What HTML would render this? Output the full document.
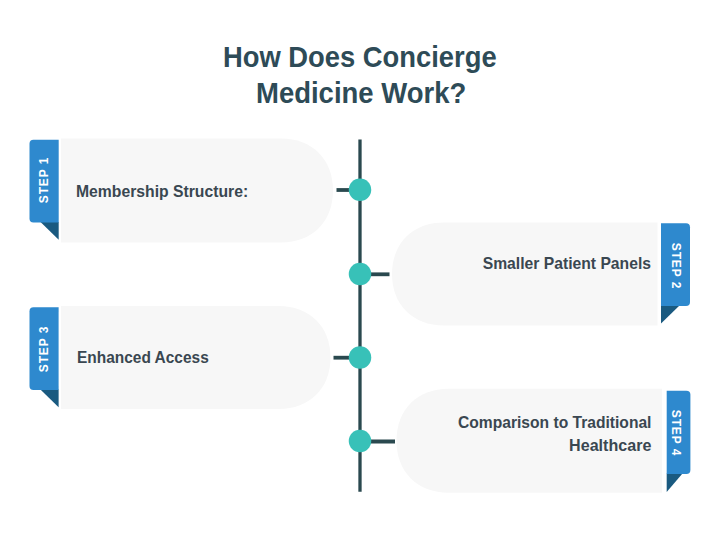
<!DOCTYPE html>
<html><head><meta charset="utf-8">
<style>
html,body{margin:0;padding:0;background:#fff;}
body{width:720px;height:539px;position:relative;overflow:hidden;font-family:"Liberation Sans",sans-serif;}
.t{position:absolute;white-space:nowrap;font-weight:bold;line-height:1;}
.title{font-size:30px;color:#2e4b57;}
.lbl{font-size:16.5px;color:#3a4751;}
.step{position:absolute;font-size:12px;color:#fff;font-weight:bold;letter-spacing:0.9px;white-space:nowrap;line-height:1;}
svg{position:absolute;left:0;top:0;}
</style></head><body>
<svg width="720" height="539" viewBox="0 0 720 539">
  <!-- cards -->
  <path d="M61 138.5 H281 C312.2 138.5 333 159.3 333 190.5 C333 221.7 312.2 242.5 281 242.5 H61 Z" fill="#f7f7f7"/>
  <path d="M657.5 222.5 H444 C412.8 222.5 392 243.1 392 274 C392 304.9 412.8 325.5 444 325.5 H657.5 Z" fill="#f7f7f7"/>
  <path d="M61 306 H278.5 C309.7 306 330.5 326.6 330.5 357.5 C330.5 388.4 309.7 409 278.5 409 H61 Z" fill="#f7f7f7"/>
  <path d="M662 388.7 H448.5 C417.3 388.7 396.5 409.5 396.5 440.7 C396.5 471.9 417.3 492.7 448.5 492.7 H662 Z" fill="#f7f7f7"/>
  <!-- line -->
  <g stroke="#2a494f" stroke-width="3.8">
  <line x1="360" y1="139.5" x2="360" y2="491.8" stroke-width="3.3"/>
  <line x1="336.5" y1="190" x2="360" y2="190"/>
  <line x1="360" y1="274.3" x2="389.5" y2="274.3"/>
  <line x1="333.5" y1="357.7" x2="360" y2="357.7"/>
  <line x1="360" y1="441.5" x2="395" y2="441.5"/>
  </g>
  <g fill="#38c1b8">
  <circle cx="360" cy="189.7" r="11.25"/>
  <circle cx="360" cy="274" r="11.25"/>
  <circle cx="360" cy="357.5" r="11.25"/>
  <circle cx="360" cy="441" r="11.25"/>
  </g>
  <!-- tabs -->
  <path d="M40.5 222 H58.7 V239.7 Z" fill="#1a5a80"/>
  <path d="M33.5 139.8 H58.7 V222.5 H33.5 A4 4 0 0 1 29.5 218.5 V143.8 A4 4 0 0 1 33.5 139.8 Z" fill="#2e89ce"/>
  <path d="M40.4 389.5 H58.6 V407.3 Z" fill="#1a5a80"/>
  <path d="M33.5 307.2 H58.6 V390 H33.5 A4 4 0 0 1 29.5 386 V311.2 A4 4 0 0 1 33.5 307.2 Z" fill="#2e89ce"/>
  <path d="M680 305 H661 V323.5 Z" fill="#1a5a80"/>
  <path d="M661 223.2 H686 A4 4 0 0 1 690 227.2 V302 A4 4 0 0 1 686 306 H661 Z" fill="#2e89ce"/>
  <path d="M682.5 473.5 H666.7 V492 Z" fill="#1a5a80"/>
  <path d="M666.7 390.8 H686.4 A4 4 0 0 1 690.4 394.8 V470 A4 4 0 0 1 686.4 474 H666.7 Z" fill="#2e89ce"/>
</svg>
<div class="t title" style="left:223px;top:42px;transform-origin:0 0;transform:scaleX(0.912)">How Does Concierge</div>
<div class="t title" style="left:256px;top:78px;transform-origin:0 0;transform:scaleX(0.916)">Medicine Work?</div>
<div class="t lbl" style="left:76px;top:183px;transform-origin:0 0;transform:scaleX(0.953)">Membership Structure:</div>
<div class="t lbl" style="right:69px;top:255px;transform-origin:100% 0;transform:scaleX(0.951)">Smaller Patient Panels</div>
<div class="t lbl" style="left:76.5px;top:349px;transform-origin:0 0;transform:scaleX(0.937)">Enhanced Access</div>
<div class="t lbl" style="right:69px;top:414px;transform-origin:100% 0;transform:scaleX(0.946)">Comparison to Traditional</div>
<div class="t lbl" style="right:69px;top:437px;transform-origin:100% 0;transform:scaleX(0.975)">Healthcare</div>
<div class="step" style="left:43.5px;top:180px;transform:translate(-50%,-50%) rotate(-90deg)">STEP 1</div>
<div class="step" style="left:676px;top:266px;transform:translate(-50%,-50%) rotate(90deg)">STEP 2</div>
<div class="step" style="left:43.5px;top:348.5px;transform:translate(-50%,-50%) rotate(-90deg)">STEP 3</div>
<div class="step" style="left:676px;top:433px;transform:translate(-50%,-50%) rotate(90deg)">STEP 4</div>
</body></html>
